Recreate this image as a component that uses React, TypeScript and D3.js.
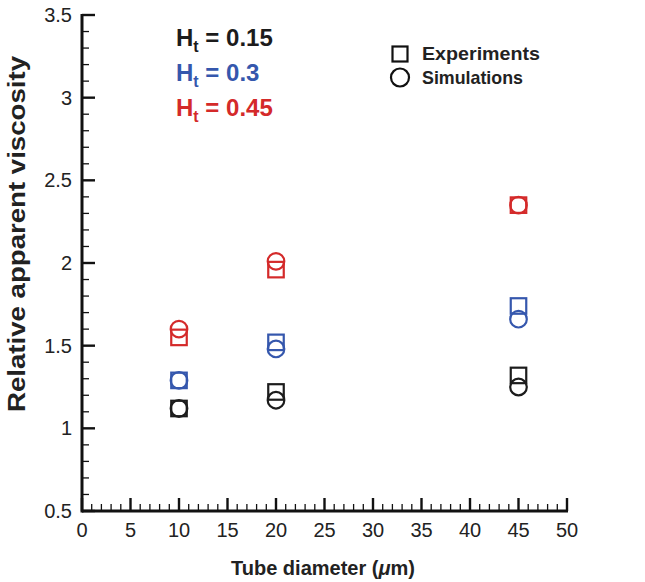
import React from "react";
import * as d3 from "d3";

const diameters = [10, 20, 45];
const expBlack = [1.12, 1.22, 1.32];
const simBlack = [1.12, 1.17, 1.25];
const expBlue = [1.29, 1.52, 1.74];
const simBlue = [1.29, 1.48, 1.66];
const expRed = [1.55, 1.96, 2.35];
const simRed = [1.6, 2.01, 2.35];
const hematocrits = ["0.15", "0.3", "0.45"];
const seriesColors = ["#1c1c1c", "#3557ad", "#d42a2a"];
const xTicks = [0, 5, 10, 15, 20, 25, 30, 35, 40, 45, 50];
const yTicks = [0.5, 1, 1.5, 2, 2.5, 3, 3.5];

const W = 645;
const H = 582;
const FONT = "'Liberation Sans', Arial, Helvetica, sans-serif";

export default function App() {
  const x = d3.scaleLinear().domain([0, 50]).range([82, 567]);
  const y = d3.scaleLinear().domain([0.5, 3.5]).range([511, 15]);
  const xMinor = d3.range(0, 51, 1).filter((v) => v % 5 !== 0);
  const yMinor = d3.range(5, 36, 1).map((v) => v / 10).filter((v) => Math.round(v * 10) % 5 !== 0);
  const groups = [
    { exp: expBlack, sim: simBlack, color: seriesColors[0] },
    { exp: expBlue, sim: simBlue, color: seriesColors[1] },
    { exp: expRed, sim: simRed, color: seriesColors[2] },
  ];
  const sq = 15.5;
  const r = 8.3;
  return (
    <svg width={W} height={H} style={{ position: "absolute", left: 0, top: 0, background: "#fff" }} fontFamily={FONT}>
      {/* axes */}
      <g stroke="#111" fill="none">
        <line x1={x(0)} x2={x(50) + 1} y1={y(0.5)} y2={y(0.5)} strokeWidth={3} />
        <line x1={x(0)} x2={x(0)} y1={y(3.5) - 1} y2={y(0.5) + 1.5} strokeWidth={3} />
        {xTicks.map((t) => (
          <line key={"xt" + t} x1={x(t)} x2={x(t)} y1={y(0.5)} y2={y(0.5) - 13} strokeWidth={2.4} />
        ))}
        {xMinor.map((t) => (
          <line key={"xm" + t} x1={x(t)} x2={x(t)} y1={y(0.5)} y2={y(0.5) - 7} strokeWidth={1.3} />
        ))}
        {yTicks.map((t) => (
          <line key={"yt" + t} x1={x(0)} x2={x(0) + 13} y1={y(t)} y2={y(t)} strokeWidth={2.4} />
        ))}
        {yMinor.map((t) => (
          <line key={"ym" + t} x1={x(0)} x2={x(0) + 7} y1={y(t)} y2={y(t)} strokeWidth={1.3} />
        ))}
      </g>
      <g fontSize={20} fill="#222">
        {xTicks.map((t) => (
          <text key={"xl" + t} x={x(t)} y={537} textAnchor="middle">{t}</text>
        ))}
        {yTicks.map((t) => (
          <text key={"yl" + t} x={72} y={y(t) + 7} textAnchor="end">{t}</text>
        ))}
      </g>
      <text x={323} y={575} textAnchor="middle" fontSize={20} fontWeight="bold" fill="#222">
        Tube diameter (<tspan fontStyle="italic">μ</tspan>m)
      </text>
      <text transform={`translate(25,234) rotate(-90)`} textAnchor="middle" fontSize={24} fontWeight="bold" fill="#222" textLength={356} lengthAdjust="spacingAndGlyphs">
        Relative apparent viscosity
      </text>
      {/* data */}
      {groups.map((g, gi) => (
        <g key={"g" + gi} stroke={g.color} fill="none" strokeWidth={2.2}>
          {diameters.map((d, i) => (
            <rect key={"s" + i} x={x(d) - sq / 2} y={y(g.exp[i]) - sq / 2} width={sq} height={sq} />
          ))}
          {diameters.map((d, i) => (
            <circle key={"c" + i} cx={x(d)} cy={y(g.sim[i])} r={r} />
          ))}
        </g>
      ))}
      {/* hematocrit legend */}
      {hematocrits.map((h, i) => (
        <text key={"h" + i} x={176} y={46 + i * 35} fontSize={24} fontWeight="bold" fill={seriesColors[i]}>
          H<tspan fontSize={16} dy={6}>t</tspan>
          <tspan dy={-6}> = {h}</tspan>
        </text>
      ))}
      {/* marker legend */}
      <rect x={392.5} y={46.5} width={15} height={15} fill="none" stroke="#111" strokeWidth={2.2} />
      <circle cx={400} cy={77.5} r={9} fill="none" stroke="#111" strokeWidth={2.2} />
      <text x={422} y={60} fontSize={19} fontWeight="bold" fill="#222" textLength={118} lengthAdjust="spacingAndGlyphs">Experiments</text>
      <text x={422} y={84} fontSize={19} fontWeight="bold" fill="#222" textLength={101} lengthAdjust="spacingAndGlyphs">Simulations</text>
    </svg>
  );
}
